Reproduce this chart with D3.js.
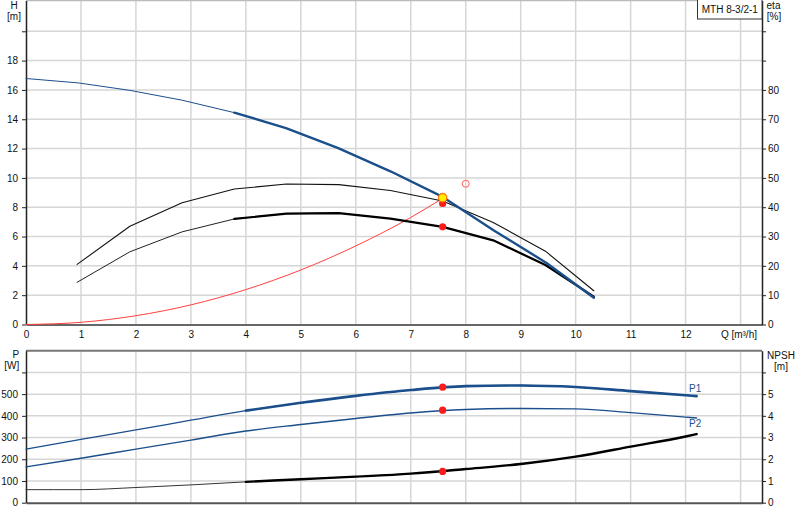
<!DOCTYPE html>
<html>
<head>
<meta charset="utf-8">
<script src="https://cdn.jsdelivr.net/npm/d3@7"></script>
<style>
  body { margin: 0; background: #fff; }
  svg text { font-family: "Liberation Sans", Arial, sans-serif; font-size: 10px; fill: #111; }
</style>
</head>
<body>
<svg id="chart" width="800" height="520"></svg>
<script>
// pump curves
const qPump = [0, 0.95, 1.89, 2.84, 3.79, 4.73, 5.68, 6.63, 7.58, 8.52, 9.47, 10.33];
const head = [16.78, 16.48, 15.97, 15.3, 14.45, 13.4, 12.03, 10.45, 8.7, 6.4, 4.2, 1.83];

const qEta = [0.93, 1.89, 2.84, 3.79, 4.74, 5.69, 6.63, 7.58, 8.5, 9.45, 10.33];
const etaHigh = [20.5, 33.5, 41.5, 46.2, 47.9, 47.7, 45.7, 42.1, 34.8, 25.0, 11.5];
const etaLow = [14.4, 24.8, 31.6, 36.0, 37.8, 38.0, 36.1, 33.3, 28.7, 20.3, 9.5];

const qSystem = [0, 1, 2, 3, 4, 5, 6, 7, 7.6];
const hSystem = [0, 0.15, 0.6, 1.34, 2.38, 3.72, 5.36, 7.3, 8.65];

const qPower = [0, 1, 2, 3, 4, 5, 6, 7, 8, 9, 10, 11, 12, 12.2];
const p1 = [247, 292, 335, 380, 424, 460, 492, 519, 537, 540, 533, 514, 495, 491];
const p2 = [165, 205, 247, 288, 330, 360, 388, 413, 429, 434, 432, 415, 394, 390];
const npsh = [0.6, 0.6, 0.7, 0.82, 0.96, 1.08, 1.2, 1.34, 1.55, 1.78, 2.12, 2.58, 3.05, 3.16];

// duty point and requested point
const duty = {q: 7.58, h: 8.65, etaHigh: 41.3, etaLow: 33.3, p1: 532, p2: 426, npsh: 1.44};
const request = {q: 8.0, h: 9.6};

const qTicks = [0, 1, 2, 3, 4, 5, 6, 7, 8, 9, 10, 11, 12];
const qGrid = [1, 2, 3, 4, 5, 6, 7, 8, 9, 10, 11, 12, 13];
const hTicks = [0, 2, 4, 6, 8, 10, 12, 14, 16, 18, 20];
const etaTicks = [0, 10, 20, 30, 40, 50, 60, 70, 80, 90, 100];
const pTicks = [0, 100, 200, 300, 400, 500, 600];
const npshTicks = [0, 1, 2, 3, 4, 5, 6];

const svg = d3.select("#chart");
const left = 26, right = 762;

const x = d3.scaleLinear().domain([0, 13.39]).range([left, right]);
const yH = d3.scaleLinear().domain([0, 22.1]).range([324.5, 0.5]);
const yEta = d3.scaleLinear().domain([0, 110.5]).range([324.5, 0.5]);
const yP = d3.scaleLinear().domain([0, 700]).range([502.7, 350.7]);
const yN = d3.scaleLinear().domain([0, 7]).range([502.7, 350.7]);

const gridColor = "#d6d6d6";

// grid
const grid = svg.append("g");
qGrid.forEach(q => {
  grid.append("line").attr("x1", x(q)).attr("x2", x(q)).attr("y1", yH(22.1)).attr("y2", yH(0))
    .attr("stroke", gridColor).attr("stroke-width", 1.5);
  grid.append("line").attr("x1", x(q)).attr("x2", x(q)).attr("y1", yP(700)).attr("y2", yP(0))
    .attr("stroke", gridColor).attr("stroke-width", 1.5);
});
hTicks.slice(1).forEach(h => {
  grid.append("line").attr("x1", left).attr("x2", right).attr("y1", yH(h)).attr("y2", yH(h))
    .attr("stroke", gridColor).attr("stroke-width", 1.5);
});
pTicks.slice(1).forEach(p => {
  grid.append("line").attr("x1", left).attr("x2", right).attr("y1", yP(p)).attr("y2", yP(p))
    .attr("stroke", gridColor).attr("stroke-width", 1.5);
});
// top borders
grid.append("line").attr("x1", left).attr("x2", right).attr("y1", 0.5).attr("y2", 0.5)
  .attr("stroke", "#bbb").attr("stroke-width", 1.5);
grid.append("line").attr("x1", left).attr("x2", right).attr("y1", yP(700)).attr("y2", yP(700))
  .attr("stroke", "#777").attr("stroke-width", 2);

// axes
function styleAxis(g, color, width) {
  g.select(".domain").attr("stroke", color).attr("stroke-width", width);
  g.selectAll(".tick line").attr("stroke", "#222");
  g.selectAll(".tick text").attr("fill", "#111").style("font-size", "10px");
}

const labelUpTo = max => d => d <= max ? d : "";

svg.append("g").attr("transform", `translate(0, ${yH(0)})`)
  .call(d3.axisBottom(x).tickValues(qTicks).tickSize(0).tickPadding(6).tickSizeOuter(0))
  .call(g => styleAxis(g, "#666", 2));

svg.append("g").attr("transform", `translate(${left}, 0)`)
  .call(d3.axisLeft(yH).tickValues(hTicks).tickFormat(labelUpTo(18)).tickSize(4).tickPadding(4).tickSizeOuter(0))
  .call(g => styleAxis(g, "#222", 1.5));

svg.append("g").attr("transform", `translate(${right}, 0)`)
  .call(d3.axisRight(yEta).tickValues(etaTicks).tickFormat(labelUpTo(80)).tickSize(4).tickPadding(2).tickSizeOuter(0))
  .call(g => styleAxis(g, "#222", 1.5));

svg.append("g").attr("transform", `translate(0, ${yP(0)})`)
  .call(d3.axisBottom(x).tickValues([]).tickSizeOuter(0))
  .call(g => styleAxis(g, "#555", 2));

svg.append("g").attr("transform", `translate(${left}, 0)`)
  .call(d3.axisLeft(yP).tickValues(pTicks).tickFormat(labelUpTo(500)).tickSize(4).tickPadding(4).tickSizeOuter(0))
  .call(g => styleAxis(g, "#222", 1.5));

svg.append("g").attr("transform", `translate(${right}, 0)`)
  .call(d3.axisRight(yN).tickValues(npshTicks).tickFormat(labelUpTo(5)).tickSize(4).tickPadding(2).tickSizeOuter(0))
  .call(g => styleAxis(g, "#222", 1.5));

// axis titles
const titles = [
  ["H", 14, 9], ["[m]", 14, 20],
  ["eta", 773.5, 9], ["[%]", 774, 20],
  ["P", 15.8, 357.5], ["[W]", 11.7, 369],
  ["NPSH", 781, 358.5], ["[m]", 781, 370]
];
titles.forEach(t => {
  svg.append("text").attr("x", t[1]).attr("y", t[2]).attr("text-anchor", "middle").text(t[0]);
});
svg.append("text").attr("x", 757).attr("y", 337.5).attr("text-anchor", "end").text("Q [m³/h]");

// legend box
svg.append("rect").attr("x", 697.5).attr("y", -1).attr("width", 64.5).attr("height", 20)
  .attr("fill", "#fff").attr("stroke", "#333").attr("stroke-width", 1);
svg.append("text").attr("x", 729.8).attr("y", 13).attr("text-anchor", "middle").text("MTH 8-3/2-1");

// curves
const blue = "#1b4f8c";
function drawLine(qs, vs, yScale, color, width, from, curve) {
  const pts = qs.map((q, i) => [q, vs[i]]).slice(from || 0);
  const line = d3.line().x(d => x(d[0])).y(d => yScale(d[1])).curve(curve || d3.curveLinear);
  svg.append("path").datum(pts).attr("d", line)
    .attr("fill", "none").attr("stroke", color).attr("stroke-width", width)
    .attr("stroke-linejoin", "round").attr("stroke-linecap", "round");
}

// system curve
drawLine(qSystem, hSystem, yH, "#ff4040", 1, 0, d3.curveMonotoneX);

// efficiency
drawLine(qEta, etaHigh, yEta, "#111", 1.1);
drawLine(qEta, etaLow, yEta, "#222", 1);
drawLine(qEta, etaLow, yEta, "#000", 2.2, 3);

// head
drawLine(qPump, head, yH, blue, 1);
drawLine(qPump, head, yH, blue, 2.4, 4);

// power and npsh
drawLine(qPower, p2, yP, blue, 1.4, 0, d3.curveMonotoneX);
drawLine(qPower, p1, yP, blue, 1.2, 0, d3.curveMonotoneX);
drawLine(qPower, p1, yP, blue, 2.6, 4, d3.curveMonotoneX);
drawLine(qPower, npsh, yN, "#333", 1, 0, d3.curveMonotoneX);
drawLine(qPower, npsh, yN, "#000", 2.4, 4, d3.curveMonotoneX);

// curve labels
svg.append("text").attr("x", 689).attr("y", 391.5).attr("fill", blue).style("fill", blue).text("P1");
svg.append("text").attr("x", 689).attr("y", 427).style("fill", blue).text("P2");

// points
const red = "#ff1a1a";
svg.append("circle").attr("cx", x(request.q)).attr("cy", yH(request.h)).attr("r", 3.5)
  .attr("fill", "none").attr("stroke", "#ff5a5a").attr("stroke-width", 1);
[[duty.etaHigh, yEta], [duty.etaLow, yEta], [duty.p1, yP], [duty.p2, yP], [duty.npsh, yN]].forEach(d => {
  svg.append("circle").attr("cx", x(duty.q)).attr("cy", d[1](d[0])).attr("r", 3.6).attr("fill", red);
});
svg.append("circle").attr("cx", x(duty.q)).attr("cy", yH(duty.h)).attr("r", 4.2)
  .attr("fill", "#ffee00").attr("stroke", "#ff7a00").attr("stroke-width", 1.3);
</script>
</body>
</html>
